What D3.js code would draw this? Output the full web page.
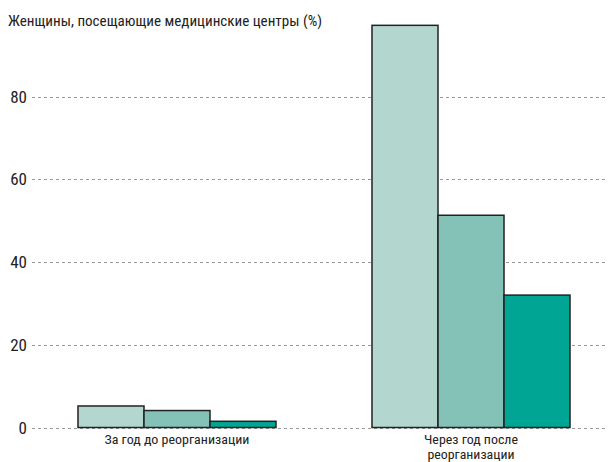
<!DOCTYPE html>
<html><head><meta charset="utf-8">
<script src="https://cdn.jsdelivr.net/npm/d3@7"></script>
<style>body{margin:0;background:#fff}svg{display:block}text{font-family:"Liberation Sans Narrow","Arial Narrow","Roboto Condensed",sans-serif;fill:#222}</style>
</head><body>
<script>
const title = "Женщины, посещающие медицинские центры (%)";
const categories = ["За год до реорганизации", "Через год после реорганизации"];
const categoryLines = [["За год до реорганизации"], ["Через год после", "реорганизации"]];
const series = ["s1", "s2", "s3"];
const series1 = [5.2, 97.2];
const series2 = [4.1, 51.3];
const series3 = [1.5, 32.0];
const yTicks = [0, 20, 40, 60, 80];
const colors = ["#b3d7cf", "#84c1b6", "#00a693"];

const W = 611, H = 462;
const svg = d3.select("body").append("svg").attr("width", W).attr("height", H);
const y = d3.scaleLinear().domain([0, 80]).range([427.5, 96.5]);
const x0 = d3.scaleBand().domain(categories).range([30, 618]).paddingInner(0.3265).paddingOuter(0.16325);
const x1 = d3.scaleBand().domain(series).range([0, x0.bandwidth()]);

// gridlines
const grid = svg.append("g");
grid.selectAll("line").data(yTicks).join("line")
  .attr("x1", 32).attr("x2", 606)
  .attr("y1", d => Math.round(y(d)) + 0.5).attr("y2", d => Math.round(y(d)) + 0.5)
  .attr("stroke", "#999").attr("stroke-width", 1).attr("stroke-dasharray", "3,3");
grid.selectAll("text").data(yTicks).join("text")
  .attr("x", 27).attr("y", d => y(d) + 6)
  .attr("text-anchor", "end").attr("font-size", 17).text(d => d);

// bars
const data = categories.map((c, i) => ({c, vals: [series1[i], series2[i], series3[i]]}));
const g = svg.append("g");
g.selectAll("g").data(data).join("g")
  .attr("transform", d => `translate(${x0(d.c)},0)`)
  .selectAll("rect").data(d => d.vals.map((v, j) => ({v, s: series[j], j})))
  .join("rect")
  .attr("x", d => x1(d.s)).attr("width", x1.bandwidth())
  .attr("y", d => y(d.v)).attr("height", d => y(0) - y(d.v))
  .attr("fill", d => colors[d.j]).attr("stroke", "#222").attr("stroke-width", 1.5);

// category labels
const lab = svg.append("g");
const lineLen = {"За год до реорганизации": 145, "Через год после": 94, "реорганизации": 87};
categories.forEach((c, i) => {
  const cx = x0(c) + x0.bandwidth() / 2;
  categoryLines[i].forEach((l, k) => lab.append("text").attr("x", cx).attr("y", 444 + k * 14.5)
    .attr("text-anchor", "middle").attr("font-size", 13)
    .attr("textLength", lineLen[l]).attr("lengthAdjust", "spacingAndGlyphs").text(l));
});

svg.append("text").attr("x", 8).attr("y", 26).attr("font-size", 15.5)
  .attr("textLength", 314).attr("lengthAdjust", "spacingAndGlyphs").text(title);
</script>
</body></html>
